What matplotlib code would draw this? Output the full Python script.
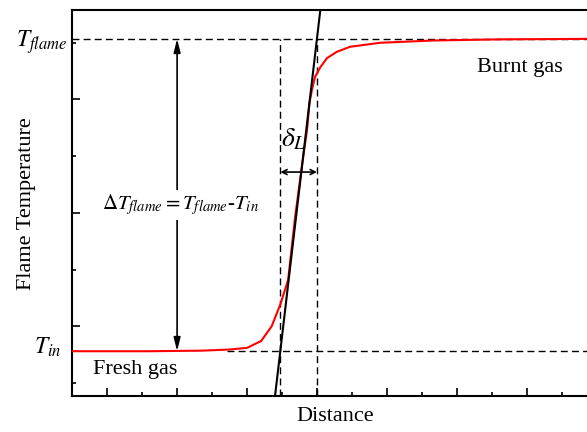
#!/usr/bin/env python3
"""Schematic of a laminar flame temperature profile with thermal thickness."""

from __future__ import annotations

import matplotlib
matplotlib.use("Agg")
import matplotlib.pyplot as plt
from matplotlib.ticker import FixedLocator

# temperature profile (arbitrary units)
DISTANCE = [0, 2.2, 3.7, 4.5, 5.0, 5.4, 5.7, 5.95, 6.17, 6.37, 6.6, 6.71, 6.78,
            6.85, 6.94, 7.09, 7.28, 7.56, 7.94, 8.31, 8.8, 10.3, 12.2, 15.0]
TEMPERATURE = [0.56, 0.56, 0.57, 0.59, 0.62, 0.74, 1.0, 1.39, 1.82, 2.93, 3.99, 4.46, 4.94,
               5.17, 5.40, 5.57, 5.73, 5.84, 5.93, 5.96, 6.0, 6.04, 6.06, 6.07]

T_IN = 0.56
T_FLAME = 6.07

# max-gradient tangent, two points on it
TANGENT_X = [5.8, 7.086]
TANGENT_Y = [-0.21, 6.56]

# where the tangent meets T_in and T_flame
DELTA_START = 5.95
DELTA_END = 6.99

X_MAJOR = [1, 3, 5, 7, 9, 11, 13]
X_MINOR = [2, 4, 6, 8, 10, 12, 14]
Y_MAJOR = [1, 3, 5]
Y_MINOR = [0, 2, 4, 6]

DASH = (0, (5, 3))


def main() -> None:
  plt.rcParams["font.family"] = ["Liberation Serif", "DejaVu Serif"]
  plt.rcParams["mathtext.fontset"] = "stix"

  fig = plt.figure(figsize=(5.87, 4.32), dpi=100)
  ax = fig.add_axes([0.1227, 0.0833, 0.895, 0.8925])
  ax.set_xlim(0, 15)
  ax.set_ylim(-0.23, 6.57)

  # guide lines
  ax.plot([0, 15], [T_FLAME, T_FLAME], color="black", lw=1, linestyle=DASH)
  ax.plot([4.43, 15], [T_IN, T_IN], color="black", lw=1, linestyle=DASH)
  ax.plot([DELTA_START, DELTA_START], [-0.23, T_FLAME], color="black", lw=1, linestyle=DASH)
  ax.plot([DELTA_END, DELTA_END], [-0.23, T_FLAME], color="black", lw=1, linestyle=DASH)

  ax.plot(DISTANCE, TEMPERATURE, color="#ff0000", lw=1.5, zorder=3)
  ax.axline((TANGENT_X[0], TANGENT_Y[0]), (TANGENT_X[1], TANGENT_Y[1]),
            color="black", lw=1.5, zorder=4)

  # delta T arrow
  ax.annotate("", xy=(3.0, T_FLAME), xytext=(3.0, T_IN),
              arrowprops=dict(arrowstyle="<|-|>,head_length=0.8,head_width=0.2",
                              color="black", lw=1.2, shrinkA=0, shrinkB=0))
  ax.text(3.11, 3.14, r"$\mathit{\Delta}T_{flame}= T_{flame}$-$T_{in}$",
          fontsize=15, ha="center", va="center", zorder=5,
          bbox=dict(facecolor="white", edgecolor="none", pad=2))

  # flame thickness arrow
  ax.annotate("", xy=(DELTA_START, 3.72), xytext=(DELTA_END, 3.72),
              arrowprops=dict(arrowstyle="<->,head_length=0.35,head_width=0.18",
                              color="black", lw=1.2, shrinkA=0, shrinkB=0))
  ax.text(6.32, 4.3, r"$\delta_L$", fontsize=20, ha="center", va="center")

  ax.text(-0.12, 6.02, r"$T_{flame}$", fontsize=17, ha="right", va="center")
  ax.text(-0.3, 0.63, r"$T_{in}$", fontsize=17, ha="right", va="center")
  ax.text(1.8, 0.23, "Fresh gas", fontsize=16, ha="center", va="center")
  ax.text(12.8, 5.57, "Burnt gas", fontsize=16, ha="center", va="center")

  ax.set_xlabel("Distance", fontsize=16, labelpad=8)
  ax.set_ylabel("Flame Temperature", fontsize=16, labelpad=26)

  ax.xaxis.set_major_locator(FixedLocator(X_MAJOR))
  ax.xaxis.set_minor_locator(FixedLocator(X_MINOR))
  ax.yaxis.set_major_locator(FixedLocator(Y_MAJOR))
  ax.yaxis.set_minor_locator(FixedLocator(Y_MINOR))
  ax.tick_params(which="both", direction="in", labelbottom=False, labelleft=False, width=1.2)
  ax.tick_params(which="major", length=6)
  ax.tick_params(which="minor", length=3)
  for spine in ax.spines.values():
    spine.set_linewidth(1.5)

  fig.savefig("out.png", dpi=100)
  plt.close(fig)


if __name__ == "__main__":
  main()
